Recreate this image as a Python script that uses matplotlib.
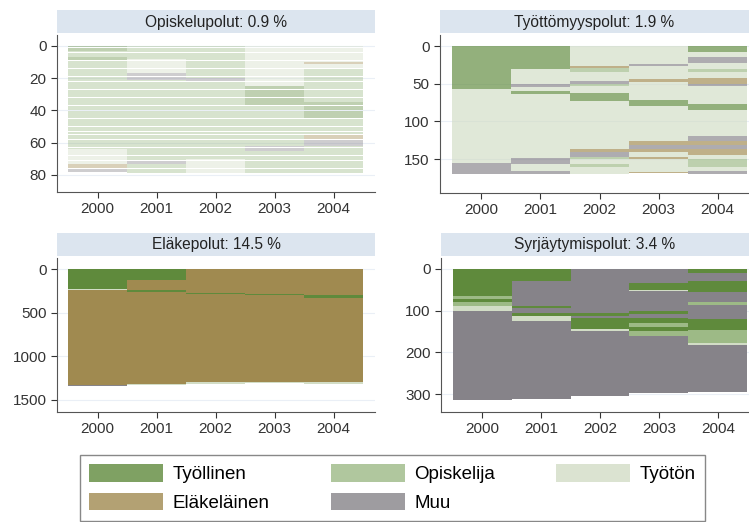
import matplotlib.pyplot as plt
from matplotlib.patches import Rectangle, Patch
import numpy as np

plt.rcParams['font.family'] = ['Liberation Sans', 'DejaVu Sans']

# states: 0 Työllinen, 1 Opiskelija, 2 Työtön, 3 Eläkeläinen, 4 Muu
state_names = ['Työllinen', 'Opiskelija', 'Työtön', 'Eläkeläinen', 'Muu']
state_colors = ['#5f8a3c', '#9dba86', '#d2ddc6', '#a08a50', '#868389']

years = [2000, 2001, 2002, 2003, 2004]

titles = ['Opiskelupolut: 0.9 %', 'Työttömyyspolut: 1.9 %',
          'Eläkepolut: 14.5 %', 'Syrjäytymispolut: 3.4 %']

# runs per year, top to bottom: (state, number of sequences)
opiskelu_runs = [
    [(0, 3), (1, 4), (0, 2), (1, 7), (1, 48), (2, 9), (3, 3), (4, 2)],
    [(1, 8), (2, 9), (4, 4), (1, 50), (4, 2), (1, 6)],
    [(1, 20), (4, 2), (1, 48), (2, 9)],
    [(2, 25), (0, 12), (1, 25), (4, 3), (1, 14)],
    [(2, 10), (3, 1), (2, 3), (1, 21), (0, 10), (1, 10), (3, 3), (4, 4), (1, 17)],
]
tyottomyys_runs = [
    [(0, 57), (2, 98), (4, 15)],
    [(0, 30), (2, 20), (4, 5), (2, 5), (0, 4), (2, 84), (4, 9), (2, 9), (4, 4)],
    [(2, 27), (3, 2), (1, 5), (2, 13), (4, 3), (1, 3), (2, 10), (0, 10), (2, 64),
     (3, 3), (4, 7), (1, 3), (2, 7), (1, 3), (2, 10)],
    [(2, 24), (4, 3), (2, 17), (3, 4), (2, 24), (0, 7), (2, 47), (3, 5), (4, 6),
     (3, 4), (2, 6), (3, 3), (2, 17), (3, 2)],
    [(0, 8), (2, 7), (4, 7), (2, 8), (1, 4), (2, 9), (3, 7), (4, 3), (2, 24), (0, 8),
     (2, 35), (4, 6), (3, 5), (4, 6), (3, 8), (2, 5), (1, 10), (2, 6), (4, 4)],
]
elake_runs = [
    [(0, 230), (2, 15), (3, 1085), (4, 8)],
    [(0, 120), (3, 120), (0, 20), (3, 1060), (2, 10)],
    [(3, 270), (0, 20), (3, 1000), (2, 30)],
    [(3, 285), (0, 15), (3, 990), (2, 20)],
    [(3, 300), (0, 30), (3, 960), (2, 30)],
]
syrjaytyminen_runs = [
    [(0, 66), (1, 6), (0, 8), (1, 8), (2, 14), (4, 213)],
    [(0, 30), (4, 60), (0, 5), (4, 11), (0, 8), (2, 12), (4, 186)],
    [(4, 105), (0, 7), (4, 6), (0, 27), (2, 5), (4, 155)],
    [(4, 35), (0, 15), (2, 4), (4, 46), (0, 8), (4, 10), (0, 12), (1, 10), (0, 10),
     (1, 12), (4, 136)],
    [(0, 10), (4, 18), (0, 27), (4, 25), (1, 7), (4, 33), (0, 26), (1, 32), (2, 5),
     (4, 112)],
]
panel_runs = [opiskelu_runs, tyottomyys_runs, elake_runs, syrjaytyminen_runs]

yticks = [[0, 20, 40, 60, 80], [0, 50, 100, 150], [0, 500, 1000, 1500], [0, 100, 200, 300]]
ylims = [(90.6, -6.8), (195, -14.6), (1638, -127), (343, -26)]
row_h = [0.85, None, None, None]
alphas = [0.4, 0.67, 1.0, 1.0]

W, H = 749, 522
fig = plt.figure(figsize=(W / 100, H / 100), dpi=100)

# axes boxes in pixels: left, right, top, bottom
boxes = [(57, 375, 35, 192), (440, 749, 35, 193), (57, 375, 258, 412), (441, 749, 258, 412)]
xlims = [(1999.31, 2004.70), (1999.30, 2004.53), (1999.31, 2004.70), (1999.30, 2004.53)]

for i in range(4):
    l, r, t, b = boxes[i]
    ax = fig.add_axes([l / W, 1 - b / H, (r - l) / W, (b - t) / H])
    runs = panel_runs[i]
    for j, yr in enumerate(years):
        st = np.array([s for s, n in runs[j]])
        ln = np.array([n for s, n in runs[j]])
        cols = [state_colors[s] for s in st]
        if row_h[i] is None:
            starts = np.concatenate([[0], np.cumsum(ln)[:-1]])
            ax.barh(starts, np.ones(len(ln)), left=yr - 0.5, height=ln, align='edge',
                    color=cols, linewidth=0, alpha=alphas[i])
        else:
            rows = np.repeat(st, ln)
            ax.barh(np.arange(len(rows)) + 0.5, np.ones(len(rows)), left=yr - 0.5,
                    height=row_h[i], color=[state_colors[s] for s in rows],
                    linewidth=0, alpha=alphas[i])
    ax.set_xlim(*xlims[i])
    ax.set_ylim(*ylims[i])
    ax.set_xticks(years)
    ax.set_yticks(yticks[i])
    ax.tick_params(labelsize=11, colors='#333333', length=4, width=0.8)
    for yt in yticks[i]:
        ax.axhline(yt, color='#eaeff6', lw=0.8, zorder=0)
    ax.spines[['top', 'right']].set_visible(False)
    ax.spines[['left', 'bottom']].set_color('#555555')
    # title band
    fig.add_artist(Rectangle((l / W, 1 - (t - 2) / H), (r - l) / W, 23 / H,
                             transform=fig.transFigure, facecolor='#dce5ef',
                             edgecolor='none'))
    fig.text((l + r) / 2 / W, 1 - (t - 13) / H, titles[i], ha='center', va='center',
             fontsize=11.2, color='#222222')

order = [0, 3, 1, 4, 2]
handles = [Patch(facecolor=state_colors[k], alpha=0.8, linewidth=0) for k in order]
labels = [state_names[k] for k in order]
fig.legend(handles, labels, ncol=3, loc='upper left',
           bbox_to_anchor=(80 / W, 1 - 527 / H, (705 - 80) / W, 72 / H), mode='expand',
           fontsize=13.5, handlelength=3.95, handleheight=1.05, labelspacing=0.5,
           handletextpad=0.5, borderpad=0.5,
           fancybox=False, edgecolor='#888888', framealpha=1, borderaxespad=0)

fig.savefig('out.png', dpi=100)
